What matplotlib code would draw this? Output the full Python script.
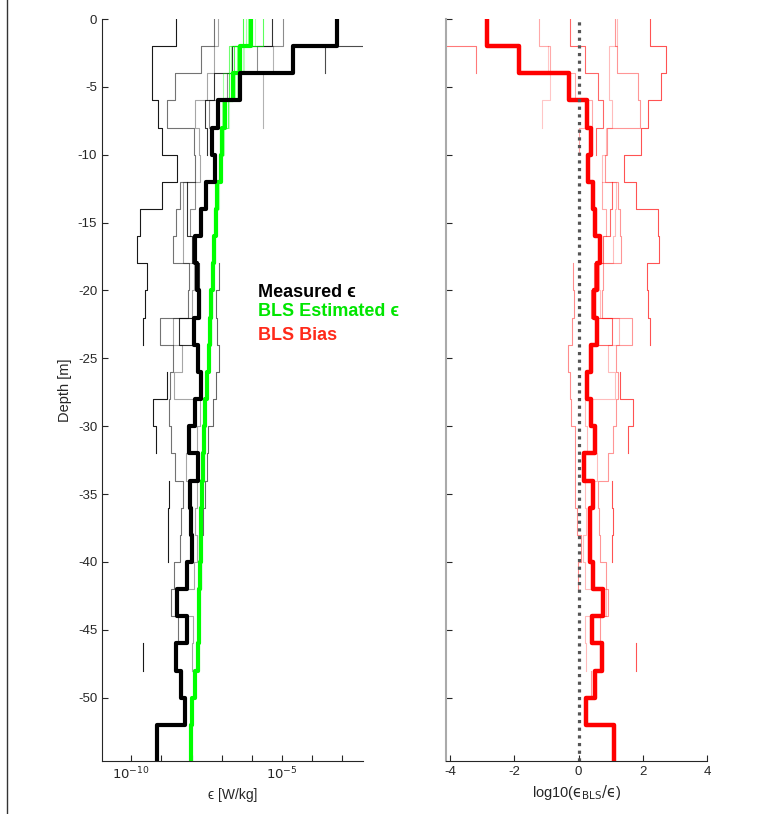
import numpy as np
import matplotlib
matplotlib.use("Agg")
import matplotlib.pyplot as plt
from matplotlib.lines import Line2D

plt.rcParams['font.family'] = ['Liberation Sans', 'DejaVu Sans']
plt.rcParams['mathtext.fontset'] = 'custom'
plt.rcParams['mathtext.rm'] = 'DejaVu Sans'
plt.rcParams['axes.unicode_minus'] = False

nan = np.nan

# bin edges (depth, m): 2 m bins, last bin runs past the plot bottom
depth_edges = [0, -2, -4, -6, -8, -10, -12, -14, -16, -18, -20, -22, -24, -26,
               -28, -30, -32, -34, -36, -38, -40, -42, -44, -46, -48, -50, -52, -56]

# mean profiles, log10(epsilon)
measured_log = [-3.17, -4.61, -6.39, -7.13, -7.32, -7.22, -7.52, -7.67, -7.88, -7.81,
                -7.76, -7.92, -7.77, -7.67, -7.89, -8.08, -7.77, -8.05, -8.01, -7.99,
                -8.15, -8.48, -8.15, -8.51, -8.35, -8.20, -9.15]
bls_log = [-6.02, -6.39, -6.61, -6.89, -6.97, -7.03, -7.14, -7.19, -7.25, -7.29,
           -7.35, -7.37, -7.43, -7.48, -7.55, -7.58, -7.61, -7.66, -7.69, -7.70,
           -7.72, -7.74, -7.76, -7.78, -7.88, -7.99, -8.03]
bias_mean = [-2.86, -1.85, -0.31, 0.26, 0.38, 0.28, 0.44, 0.51, 0.67, 0.57,
             0.47, 0.57, 0.38, 0.25, 0.38, 0.51, 0.18, 0.44, 0.35, 0.36,
             0.46, 0.75, 0.41, 0.73, 0.51, 0.22, 1.11]

# individual profiles, log10(epsilon) measured
meas_1 = [-8.50, -9.31, -9.31, -9.11, -8.98, -8.48, -8.98, -9.72, -9.81, -9.48, -9.56, -9.63, nan, -8.80,
          -9.28, -9.17, nan, -8.75, -8.78, -8.78, nan, nan, nan, -9.61, nan, nan, nan]
meas_2 = [-7.26, -7.69, -8.56, -8.83, -7.92, -7.89, -8.39, -8.52, -8.61, -8.08, -8.11, -9.06, -8.63, -8.72,
          -8.75, -8.67, -8.56, -8.28, -8.36, -8.39, -8.59, -8.69, -8.45, nan, -8.30, nan, nan]
meas_3 = [-7.11, -7.26, -7.50, -7.89, -7.76, -7.72, -8.28, -8.28, -8.28, -7.91, -8.00, -8.61, -8.33, -8.59,
          -7.72, -7.83, -8.17, -7.83, -7.89, -7.83, -7.91, -8.56, -7.95, -8.00, nan, nan, nan]
meas_4 = [-5.33, -6.66, -7.26, -7.56, -7.50, nan, -8.15, -8.15, -8.00, -7.76, -7.72, -8.41, -7.83, nan,
          nan, nan, nan, nan, nan, nan, nan, nan, nan, nan, nan, nan, nan]
meas_5 = [-4.96, -5.82, -6.83, -7.41, -7.00, nan, -7.89, -8.06, nan, nan, nan, nan, nan, nan,
          nan, nan, nan, nan, nan, nan, nan, nan, nan, nan, nan, nan, nan]
meas_6 = [nan, -5.29, -5.61, -5.61, nan, nan, nan, nan, nan, nan, nan, nan, nan, nan,
          nan, nan, nan, nan, nan, nan, nan, nan, nan, nan, nan, nan, nan]
meas_7 = [-1.50, -3.56, nan, nan, nan, nan, nan, nan, nan, nan, nan, nan, nan, nan,
          nan, nan, nan, nan, nan, nan, nan, nan, nan, nan, nan, nan, nan]
meas_8 = [nan, nan, nan, nan, nan, nan, nan, nan, nan, -7.10, -7.20, -7.15, -7.10, -7.20,
          -7.30, -7.45, -7.50, -7.55, -7.62, -7.75, -7.70, nan, nan, nan, nan, nan, nan]

# individual profiles, log10(epsilon) BLS estimate
est_1 = [-6.28, -6.60, -6.75, -6.95, -7.05, -7.08, -7.18, -7.24, -7.30, -7.34, -7.40, -7.42, nan, -7.52,
         -7.58, -7.62, nan, -7.70, -7.72, -7.74, nan, nan, nan, -7.82, nan, nan, nan]
est_2 = [-6.12, -6.50, -6.70, -6.93, -7.02, -7.06, -7.16, -7.22, -7.28, -7.31, -7.37, -7.40, -7.45, -7.50,
         -7.57, -7.60, -7.63, -7.68, -7.71, -7.72, -7.74, -7.76, -7.78, nan, -7.90, nan, nan]
est_3 = [-5.90, -6.30, -6.55, -6.85, -6.92, -7.00, -7.10, -7.16, -7.22, -7.27, -7.33, -7.35, -7.41, -7.46,
         -7.53, -7.56, -7.59, -7.64, -7.67, -7.68, -7.70, -7.72, -7.74, -7.76, nan, nan, nan]
est_4 = [-5.61, -6.45, -6.65, -6.80, -6.95, nan, -7.12, -7.17, -7.23, -7.27, -7.33, -7.36, -7.42, nan,
         nan, nan, nan, nan, nan, nan, nan, nan, nan, nan, nan, nan, nan]
est_5 = [-6.20, -6.70, -6.95, -6.98, -7.00, nan, -7.16, -7.20, nan, nan, nan, nan, nan, nan,
         nan, nan, nan, nan, nan, nan, nan, nan, nan, nan, nan, nan, nan]
est_6 = [nan, -6.25, -6.50, -6.75, nan, nan, nan, nan, nan, nan, nan, nan, nan, nan,
         nan, nan, nan, nan, nan, nan, nan, nan, nan, nan, nan, nan, nan]
est_7 = [-6.05, -6.75, nan, nan, nan, nan, nan, nan, nan, nan, nan, nan, nan, nan,
         nan, nan, nan, nan, nan, nan, nan, nan, nan, nan, nan, nan, nan]
est_8 = [nan, nan, nan, nan, nan, nan, nan, nan, nan, -7.27, -7.33, -7.36, -7.42, -7.47,
         -7.54, -7.57, -7.60, -7.65, -7.68, -7.69, -7.71, nan, nan, nan, nan, nan, nan]

meas_profiles = [meas_1, meas_2, meas_3, meas_4, meas_5, meas_6, meas_7, meas_8]
est_profiles = [est_1, est_2, est_3, est_4, est_5, est_6, est_7, est_8]
profile_alpha = [0.9, 0.55, 0.35, 0.8, 0.45, 0.3, 0.7, 0.6]


def stairs_xy(vals):
    # vertical segment per depth bin, joined by horizontals at the bin edges
    edges = np.array(depth_edges, dtype=float)
    x = np.repeat(np.asarray(vals, dtype=float), 2)
    y = np.column_stack([edges[:-1], edges[1:]]).ravel()
    return x, y


fig = plt.figure(figsize=(7.64, 8.14), dpi=100)
ax1 = fig.add_axes([102 / 764, 53 / 814, 261 / 764, 742 / 814])
ax2 = fig.add_axes([446 / 764, 53 / 814, 261 / 764, 742 / 814])

# left panel: epsilon
for m, a in zip(meas_profiles, profile_alpha):
    x, y = stairs_xy(m)
    ax1.plot(10 ** x, y, color='black', lw=0.8, alpha=a)
for e, a in zip(est_profiles, profile_alpha):
    x, y = stairs_xy(e)
    ax1.plot(10 ** x, y, color='#00ff00', lw=0.8, alpha=a * 0.8)
x, y = stairs_xy(bls_log)
ax1.plot(10 ** x, y, color='#00ff00', lw=3)
x, y = stairs_xy(measured_log)
ax1.plot(10 ** x, y, color='black', lw=3)

ax1.set_xscale('log')
ax1.set_xlim(10 ** -10.98, 10 ** -2.29)
ax1.set_ylim(-54.66, 0)
ax1.set_xticks([10.0 ** k for k in range(-10, -2)])
ax1.set_xticklabels(['$10^{-10}$' if k == -10 else ('$10^{-5}$' if k == -5 else '')
                     for k in range(-10, -2)])
ax1.xaxis.set_minor_locator(matplotlib.ticker.NullLocator())
ax1.set_yticks(range(-50, 1, 5))
ax1.set_xlabel('ϵ [W/kg]', fontsize=10, color='#262626')
ax1.set_ylabel('Depth [m]', fontsize=10.5, color='#262626', labelpad=4)

# right panel: bias
for m, e, a in zip(meas_profiles, est_profiles, profile_alpha):
    b = np.array(e) - np.array(m)
    x, y = stairs_xy(b)
    ax2.plot(x, y, color='red', lw=0.8, alpha=a * 0.75)
x, y = stairs_xy(bias_mean)
ax2.plot(x, y, color='red', lw=3.2)
ax2.axvline(0, color='#555555', lw=2.3, linestyle=(0, (1, 1.4)))

ax2.set_xlim(-4.13, 4)
ax2.set_ylim(-54.66, 0)
ax2.set_xticks([-4, -2, 0, 2, 4])
ax2.set_yticks(range(-50, 1, 5))
ax2.set_yticklabels([])
ax2.set_xlabel(r'log10($\mathrm{ϵ}_{\mathrm{BLS}}/\mathrm{ϵ}$)', fontsize=10.5, color='#262626')

for ax in (ax1, ax2):
    ax.spines['top'].set_visible(False)
    ax.spines['right'].set_visible(False)
    for s in ('left', 'bottom'):
        ax.spines[s].set_color('#262626')
        ax.spines[s].set_linewidth(0.8)
    ax.tick_params(direction='in', length=4, width=0.8, colors='#262626',
                   labelsize=9.5)
ax2.spines['left'].set_color('#aaaaaa')
ax2.spines['left'].set_linewidth(1.5)

# labels in the gap
ax1.text(0.598, 0.632, 'Measured ϵ', transform=ax1.transAxes, fontsize=13,
         fontweight='bold', color='black', va='center')
ax1.text(0.598, 0.606, 'BLS Estimated ϵ', transform=ax1.transAxes, fontsize=13,
         fontweight='bold', color='#00e600', va='center')
ax1.text(0.598, 0.573, 'BLS Bias', transform=ax1.transAxes, fontsize=13,
         fontweight='bold', color='#ff2a1a', va='center')

# border line at left edge of the screenshot
fig.add_artist(Line2D([7 / 764, 7 / 764], [0, 1], color='#333333', lw=1))

fig.savefig('out.png', dpi=100)
